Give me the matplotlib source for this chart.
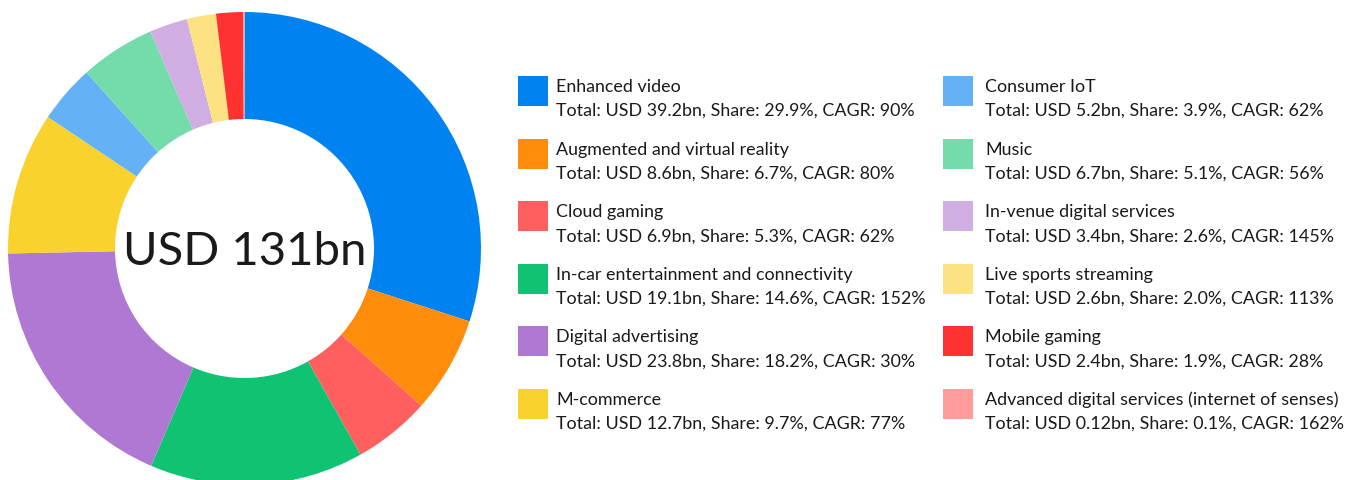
import matplotlib
matplotlib.use("Agg")
import matplotlib.pyplot as plt
from matplotlib.patches import Rectangle

plt.rcParams['font.family'] = ['Lato', 'DejaVu Sans']

# segment data, clockwise from 12 o'clock
names = ["Enhanced video", "Augmented and virtual reality", "Cloud gaming",
         "In-car entertainment and connectivity", "Digital advertising", "M-commerce",
         "Consumer IoT", "Music", "In-venue digital services", "Live sports streaming",
         "Mobile gaming", "Advanced digital services (internet of senses)"]
totals = [39.2, 8.6, 6.9, 19.1, 23.8, 12.7, 5.2, 6.7, 3.4, 2.6, 2.4, 0.12]
total_labels = ["39.2", "8.6", "6.9", "19.1", "23.8", "12.7", "5.2", "6.7", "3.4", "2.6", "2.4", "0.12"]
shares = ["29.9", "6.7", "5.3", "14.6", "18.2", "9.7", "3.9", "5.1", "2.6", "2.0", "1.9", "0.1"]
cagrs = [90, 80, 62, 152, 30, 77, 62, 56, 145, 113, 28, 162]
colors = ["#0082F0", "#FF8C0A", "#FF5F5F", "#10C373", "#AF78D2", "#F9D22E",
          "#64B2F5", "#73DCAA", "#D0AEE2", "#FCE283", "#FF3232", "#FF9B9B"]
center_label = "USD 131bn"

W, H = 1355, 481
fig = plt.figure(figsize=(W / 100, H / 100), dpi=100)

# donut
cx, cy, r = 244.5, 249.5, 236.5
ax = fig.add_axes([(cx - r) / W, (H - cy - r) / H, 2 * r / W, 2 * r / H])
ax.pie(totals, colors=colors, startangle=90, counterclock=False, radius=1,
       wedgeprops=dict(width=1 - 129.5 / 236.5, linewidth=0))
ax.set_xlim(-1, 1)
ax.set_ylim(-1, 1)
ax.set_aspect('equal')
ax.axis('off')
ax.text(0, -0.01, center_label, ha='center', va='center', fontsize=34, color='#1a1a1a')

# legend, two columns of six
for i, name in enumerate(names):
    col, row = divmod(i, 6)
    sx = 518 + col * 425
    tx = 556 + col * 429
    top = 77 + row * 62.6
    fig.patches.append(Rectangle((sx / W, (H - top - 30) / H), 30 / W, 30 / H,
                                 transform=fig.transFigure, color=colors[i], linewidth=0))
    fig.text(tx / W, (H - top - 10) / H, name, ha='left', va='center',
             fontsize=12.9, color='#1a1a1a')
    fig.text(tx / W, (H - top - 34) / H,
             "Total: USD {}bn, Share: {}%, CAGR: {}%".format(total_labels[i], shares[i], cagrs[i]),
             ha='left', va='center', fontsize=12.9, color='#1a1a1a')

fig.savefig("out.png", dpi=100, facecolor='white')
